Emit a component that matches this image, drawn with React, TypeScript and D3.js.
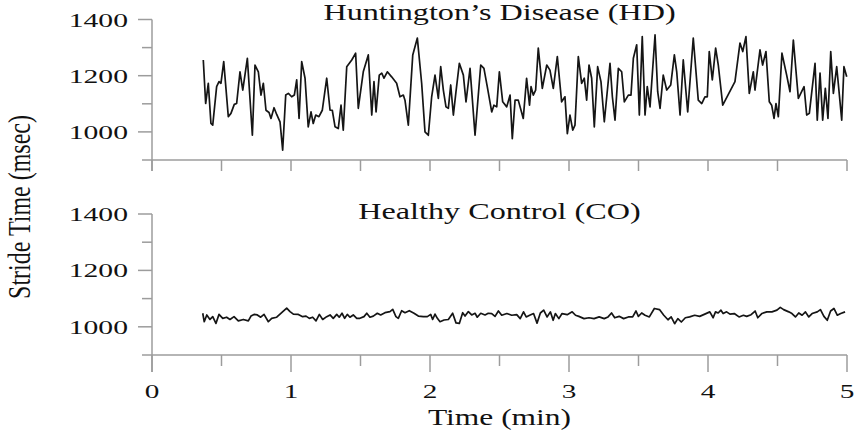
import React from "react";
import * as d3 from "d3";

// ---------- data ----------
const hdTime = [
  0.369, 0.386, 0.405, 0.424, 0.437, 0.465, 0.482, 0.496, 0.516, 0.549, 0.568, 0.592, 0.609, 0.633, 0.653, 0.686,
  0.722, 0.741, 0.765, 0.784, 0.801, 0.82, 0.842, 0.856, 0.878, 0.897, 0.921, 0.94, 0.962, 0.981, 1.005, 1.024,
  1.041, 1.058, 1.077, 1.101, 1.124, 1.144, 1.16, 1.178, 1.201, 1.225, 1.257, 1.281, 1.297, 1.317, 1.34, 1.36,
  1.376, 1.401, 1.437, 1.465, 1.484, 1.52, 1.556, 1.581, 1.597, 1.612, 1.635, 1.653, 1.669, 1.693, 1.724, 1.76,
  1.784, 1.808, 1.82, 1.844, 1.876, 1.909, 1.94, 1.964, 1.988, 2.012, 2.036, 2.06, 2.077, 2.096, 2.115, 2.132,
  2.149, 2.168, 2.187, 2.211, 2.24, 2.259, 2.288, 2.324, 2.365, 2.388, 2.412, 2.444, 2.46, 2.48, 2.499, 2.523,
  2.552, 2.576, 2.592, 2.612, 2.635, 2.671, 2.695, 2.716, 2.727, 2.743, 2.76, 2.779, 2.808, 2.84, 2.863, 2.887,
  2.916, 2.947, 2.971, 2.988, 3.007, 3.027, 3.043, 3.067, 3.091, 3.11, 3.127, 3.144, 3.163, 3.182, 3.206, 3.23,
  3.254, 3.295, 3.312, 3.331, 3.355, 3.379, 3.398, 3.427, 3.446, 3.463, 3.487, 3.506, 3.527, 3.547, 3.563, 3.583,
  3.619, 3.638, 3.655, 3.678, 3.703, 3.732, 3.758, 3.775, 3.799, 3.822, 3.854, 3.894, 3.93, 3.955, 3.978, 3.995,
  4.009, 4.031, 4.055, 4.074, 4.106, 4.194, 4.23, 4.25, 4.273, 4.297, 4.326, 4.338, 4.374, 4.393, 4.417, 4.441,
  4.458, 4.475, 4.489, 4.506, 4.532, 4.566, 4.59, 4.614, 4.65, 4.691, 4.71, 4.729, 4.77, 4.786, 4.806, 4.825,
  4.844, 4.863, 4.883, 4.902, 4.926, 4.962, 4.978, 4.998,
];
const hdStride = [
  1256, 1101, 1173, 1030, 1024, 1161, 1179, 1173, 1250, 1054, 1066, 1098, 1101, 1214, 1149, 1262,
  988, 1238, 1214, 1131, 1173, 1077, 1069, 1048, 1086, 1062, 1036, 935, 1131, 1137, 1125, 1131,
  1185, 1048, 1250, 1191, 1018, 1071, 1030, 1060, 1054, 1077, 1191, 1077, 1077, 1018, 1012, 1095,
  1006, 1232, 1256, 1280, 1084, 1214, 1274, 1060, 1179, 1071, 1202, 1209, 1191, 1214, 1196, 1173,
  1125, 1131, 1113, 1024, 1274, 1334, 1173, 1000, 988, 1125, 1202, 1119, 1232, 1149, 1089, 1084,
  1167, 1060, 1143, 1244, 1202, 1107, 1226, 988, 1238, 1226, 1161, 1071, 1095, 1089, 1214, 1107,
  1089, 1131, 976, 1113, 1113, 1048, 1191, 1095, 1161, 1131, 1149, 1298, 1155, 1238, 1220, 1155,
  1268, 1107, 1125, 994, 1060, 1006, 1024, 1268, 1173, 1191, 1113, 1238, 1191, 1018, 1232, 1179,
  1036, 1244, 1125, 1042, 1226, 1214, 1107, 1131, 1131, 1262, 1310, 1060, 1339, 1060, 1161, 1089,
  1345, 1143, 1084, 1202, 1149, 1167, 1274, 1214, 1060, 1256, 1071, 1334, 1113, 1101, 1125, 1125,
  1286, 1185, 1298, 1238, 1095, 1179, 1316, 1286, 1339, 1137, 1214, 1149, 1292, 1238, 1286, 1107,
  1095, 1048, 1101, 1054, 1280, 1202, 1143, 1327, 1119, 1161, 1060, 1066, 1244, 1042, 1209, 1042,
  1155, 1048, 1286, 1137, 1232, 1042, 1232, 1196,
];

const coTime = [
  0.365, 0.376, 0.394, 0.417, 0.437, 0.46, 0.482, 0.509, 0.537, 0.561, 0.59, 0.621, 0.657, 0.693, 0.712, 0.734,
  0.758, 0.782, 0.806, 0.837, 0.861, 0.897, 0.933, 0.969, 0.993, 1.017, 1.053, 1.084, 1.108, 1.132, 1.156, 1.18,
  1.204, 1.228, 1.257, 1.281, 1.304, 1.329, 1.347, 1.367, 1.386, 1.405, 1.424, 1.448, 1.473, 1.496, 1.525, 1.545,
  1.568, 1.592, 1.621, 1.645, 1.676, 1.712, 1.732, 1.755, 1.772, 1.796, 1.82, 1.851, 1.885, 1.916, 1.952, 1.981,
  2.005, 2.019, 2.036, 2.053, 2.072, 2.101, 2.132, 2.163, 2.187, 2.211, 2.235, 2.252, 2.276, 2.3, 2.324, 2.34,
  2.365, 2.396, 2.419, 2.444, 2.468, 2.492, 2.516, 2.553, 2.588, 2.624, 2.649, 2.673, 2.692, 2.717, 2.745, 2.77,
  2.794, 2.818, 2.842, 2.866, 2.886, 2.902, 2.927, 2.95, 2.987, 3.023, 3.047, 3.071, 3.108, 3.144, 3.18, 3.217,
  3.253, 3.281, 3.306, 3.329, 3.361, 3.393, 3.427, 3.458, 3.482, 3.499, 3.523, 3.547, 3.578, 3.614, 3.651, 3.682,
  3.712, 3.735, 3.76, 3.783, 3.808, 3.837, 3.868, 3.904, 3.94, 3.977, 4.013, 4.037, 4.054, 4.073, 4.093, 4.109,
  4.134, 4.158, 4.189, 4.223, 4.255, 4.278, 4.31, 4.339, 4.358, 4.387, 4.423, 4.46, 4.496, 4.52, 4.544, 4.581,
  4.604, 4.629, 4.653, 4.677, 4.701, 4.725, 4.749, 4.786, 4.809, 4.834, 4.858, 4.882, 4.906, 4.93, 4.955, 4.986,
];
const coStride = [
  1048, 1018, 1042, 1026, 1036, 1012, 1044, 1030, 1034, 1026, 1036, 1021, 1026, 1021, 1038, 1044,
  1042, 1034, 1044, 1018, 1030, 1034, 1050, 1066, 1054, 1045, 1044, 1036, 1038, 1030, 1034, 1021,
  1044, 1026, 1036, 1042, 1030, 1044, 1034, 1048, 1030, 1044, 1034, 1042, 1030, 1030, 1036, 1048,
  1034, 1038, 1048, 1042, 1050, 1054, 1062, 1036, 1030, 1057, 1050, 1057, 1048, 1038, 1036, 1036,
  1044, 1026, 1045, 1030, 1018, 1024, 1026, 1048, 1014, 1012, 1050, 1038, 1054, 1042, 1048, 1034,
  1048, 1042, 1048, 1047, 1037, 1056, 1041, 1047, 1041, 1043, 1029, 1053, 1035, 1041, 1047, 1013,
  1049, 1059, 1035, 1053, 1023, 1047, 1029, 1047, 1043, 1053, 1041, 1037, 1029, 1032, 1029, 1035,
  1029, 1035, 1049, 1032, 1037, 1029, 1035, 1035, 1056, 1037, 1049, 1041, 1035, 1065, 1061, 1041,
  1025, 1035, 1011, 1029, 1017, 1032, 1035, 1041, 1037, 1045, 1053, 1032, 1053, 1049, 1059, 1047,
  1053, 1045, 1047, 1035, 1041, 1037, 1043, 1056, 1032, 1047, 1053, 1053, 1059, 1069, 1061, 1053,
  1047, 1035, 1049, 1041, 1053, 1035, 1047, 1053, 1061, 1037, 1023, 1056, 1065, 1041, 1047, 1053,
];

const xMajorTicks = [0, 1, 2, 3, 4, 5];
const xMinorTicks = [0.5, 1.5, 2.5, 3.5, 4.5];
const yMajorTicks = [1000, 1200, 1400];
const yMinorTicks = [900, 1100, 1300];

const panels = [
  { title: "Huntington\u2019s Disease (HD)", time: hdTime, stride: hdStride },
  { title: "Healthy Control (CO)", time: coTime, stride: coStride },
];

// ---------- layout ----------
const W = 859;
const H = 435;
const FONT = "'Liberation Serif', 'Times New Roman', serif";
const SX = 1.4; // horizontal stretch of the source image's text
const AXIS = "#9c9c9c";

const x = d3.scaleLinear().domain([0, 5]).range([152, 847]);
const panelGeom = [
  { top: 19.5, bottom: 160, titleY: 20, majorX: 11, minorX: 11 },
  { top: 214, bottom: 355, titleY: 219, majorX: 17, minorX: 11 },
];

function Panel({ idx }: { idx: number }) {
  const p = panels[idx];
  const g = panelGeom[idx];
  const y = d3.scaleLinear().domain([900, 1400]).range([g.bottom, g.top]);
  const pts = p.time.map((t, i) => [t, p.stride[i]] as [number, number]);
  const line = d3
    .line<[number, number]>()
    .x((d) => x(d[0]))
    .y((d) => y(d[1]));
  const x0 = x(0);
  return (
    <g>
      <text
        transform={`translate(${x(2.5)},${g.titleY}) scale(${SX},1)`}
        textAnchor="middle"
        fontFamily={FONT}
        fontSize={23}
        fill="#111"
      >
        {p.title}
      </text>
      {/* y axis */}
      <line x1={x0} x2={x0} y1={y(1400)} y2={g.bottom + g.majorX} stroke={AXIS} strokeWidth={1.5} />
      {yMajorTicks.map((v) => (
        <g key={"ym" + v}>
          <line x1={x0 - 14} x2={x0} y1={y(v)} y2={y(v)} stroke={AXIS} strokeWidth={1.5} />
          <text
            transform={`translate(${x0 - 24},${y(v) + 7}) scale(1.52,1)`}
            textAnchor="end"
            fontFamily={FONT}
            fontSize={19.5}
            fill="#111"
          >
            {v}
          </text>
        </g>
      ))}
      {yMinorTicks.map((v) => (
        <line key={"yn" + v} x1={x0 - 10} x2={x0} y1={y(v)} y2={y(v)} stroke={AXIS} strokeWidth={1.5} />
      ))}
      {/* x axis */}
      <line x1={x0} x2={x(5)} y1={g.bottom} y2={g.bottom} stroke={AXIS} strokeWidth={1.5} />
      {xMajorTicks.map((t) => (
        <line key={"xm" + t} x1={x(t)} x2={x(t)} y1={g.bottom} y2={g.bottom + g.majorX} stroke={AXIS} strokeWidth={1.5} />
      ))}
      {xMinorTicks.map((t) => (
        <line key={"xn" + t} x1={x(t)} x2={x(t)} y1={g.bottom} y2={g.bottom + g.minorX} stroke={AXIS} strokeWidth={1.5} />
      ))}
      <path d={line(pts) || ""} fill="none" stroke="#151515" strokeWidth={1.7} strokeLinejoin="round" />
    </g>
  );
}

export default function App() {
  return (
    <svg
      width={W}
      height={H}
      viewBox={`0 0 ${W} ${H}`}
      style={{ position: "absolute", left: 0, top: 0, background: "#fff" }}
    >
      <rect x={0} y={0} width={W} height={H} fill="#fff" />
      <Panel idx={0} />
      <Panel idx={1} />
      {xMajorTicks.map((t) => (
        <text
          key={"xl" + t}
          transform={`translate(${x(t)},${398}) scale(1.5,1)`}
          textAnchor="middle"
          fontFamily={FONT}
          fontSize={19.5}
          fill="#111"
        >
          {t}
        </text>
      ))}
      <text
        transform={`translate(${x(2.5)},${425}) scale(${SX},1)`}
        textAnchor="middle"
        fontFamily={FONT}
        fontSize={22.5}
        fill="#111"
      >
        Time (min)
      </text>
      <text
        transform={`translate(${30},${207}) rotate(-90) scale(1,1.35)`}
        textAnchor="middle"
        fontFamily={FONT}
        fontSize={24}
        fill="#111"
      >
        Stride Time (msec)
      </text>
    </svg>
  );
}
